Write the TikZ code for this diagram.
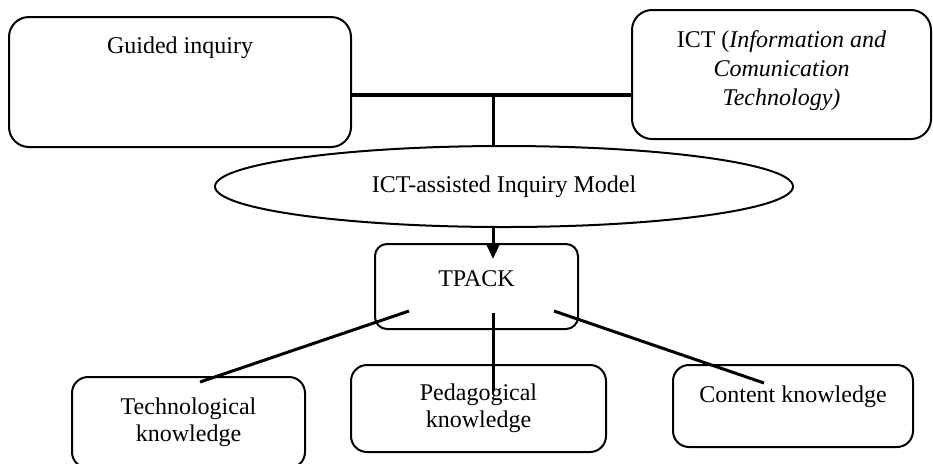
\documentclass[tikz,border=0pt]{standalone}
\usepackage{fontspec}
\setmainfont{Liberation Serif}
\usetikzlibrary{shapes.geometric,arrows.meta}
\tikzset{box/.style={draw,line width=1pt,rounded corners=8pt,align=center,font=\fontsize{12}{13.5}\selectfont},
  link/.style={line width=1.5pt}}

\begin{document}
\begin{tikzpicture}[x=0.5pt,y=-0.5pt]
            \useasboundingbox (0,0) rectangle (933,463);
            \clip (0,0) rectangle (933,463);
            \node (gi) at (180,82) [box,rounded corners=10pt,minimum width=171pt,minimum height=65pt,
                inner ysep=0pt,text height=18pt,text depth=47pt]{Guided inquiry};
            \node (ict) at (781.5,74.5) [box,rounded corners=10pt,minimum width=149.5pt,minimum height=64.5pt,
                font=\fontsize{12}{14.5}\selectfont,inner ysep=0pt,text height=47.5pt,text depth=17pt]
                {ICT (\textit{Information and}\\\textit{Comunication}\\\textit{Technology)}};
            \node (model) at (504,186.5) [ellipse,draw,line width=1pt,inner sep=0pt,minimum width=289pt,
                minimum height=40.5pt,font=\fontsize{12}{13.5}\selectfont]{ICT-assisted Inquiry Model};
            \node (tpack) at (476.5,286.5) [box,rounded corners=6pt,minimum width=101.5pt,minimum height=42.5pt,
                text depth=7.5pt]{TPACK};
            \node (tk) at (188.5,422.5) [box,minimum width=116.5pt,minimum height=45.5pt]{Technological\\knowledge};
            \node (pk) at (478.5,408.5) [box,minimum width=127.5pt,minimum height=43.5pt]{Pedagogical\\knowledge};
            \node (ck) at (793,406) [box,minimum width=120pt,minimum height=41pt,
                text depth=11.7pt]{Content knowledge};
            \coordinate (join) at (493,95);
            \coordinate (tip) at (493,259);
            \coordinate (tl) at (409,311);
            \coordinate (tm) at (493,313);
            \coordinate (tr) at (554,311);
            \coordinate (kl) at (200,382);
            \coordinate (km) at (493,391);
            \coordinate (kr) at (764,383);
            \draw[line width=1.6pt] (gi.east|-join) -- (ict.west|-join);
            \draw[link] (join) -- (join|-model.north);
            \draw[link,-{Triangle[length=7pt,width=6pt]}] (join|-model.south) -- (tip);
            \foreach \a/\b in {tl/kl,tm/km,tr/kr} {
                \draw[link] (\a) -- (\b);
            }
        \end{tikzpicture}
\end{document}
